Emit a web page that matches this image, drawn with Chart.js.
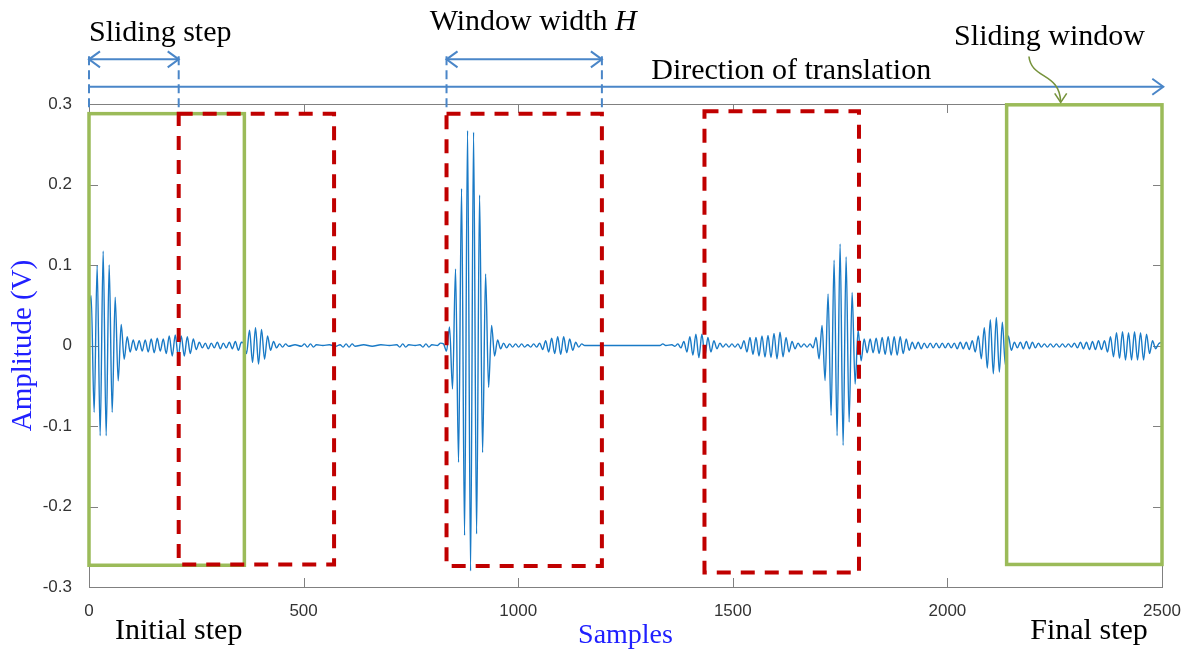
<!DOCTYPE html>
<html>
<head>
<meta charset="utf-8">
<script src="https://cdn.jsdelivr.net/npm/chart.js@4.4.1/dist/chart.umd.min.js"></script>
<style>
  html, body { margin: 0; padding: 0; background: #fff; }
</style>
</head>
<body>
<canvas id="graficoSinal" width="1189" height="652"></canvas>
<script>
// tick labels
const xTicks = [0, 500, 1000, 1500, 2000, 2500];
const yTicks = [-0.3, -0.2, -0.1, 0, 0.1, 0.2, 0.3];

// signal: [sample, amplitude (V)] at each visible crest / trough
const signalPoints = [
  [0,0.045],[5,0.062],[12,-0.083],[19,0.099],[26,-0.112],[33,0.117],[40,-0.112],[47,0.1],[54,-0.083],[61,0.06],
  [68,-0.044],[75,0.026],[82,-0.017],[89,0.011],[96,-0.008],
  [103,0.007],[110,-0.006],[117,0.006],[124,-0.007],[131,0.007],[138,-0.008],[145,0.008],[152,-0.009],[159,0.009],
  [166,-0.007],[173,0.008],
  [180,-0.01],[187,0.012],[194,-0.013],[201,0.013],[208,-0.014],[215,0.012],[222,-0.013],[229,0.011],[236,-0.01],
  [243,0.008],[250,-0.005],
  [257,0.004],[264,-0.003],[271,0.003],[278,-0.004],[285,0.003],[292,-0.003],[299,0.004],[306,-0.004],[313,0.003],
  [320,-0.003],[327,0.004],[334,-0.004],[341,0.005],[348,-0.006],[355,0.004],
  [360,0.003],[367,-0.01],[374,0.019],[381,-0.021],[388,0.022],[395,-0.023],[402,0.02],[409,-0.017],[416,0.012],
  [423,-0.006],[430,0.005],[437,-0.003],[444,0.002],
  [451,-0.002],[458,0.002],[465,-0.001],[480,0.001],[495,-0.001],[502,0.002],[509,-0.002],[516,0.002],[523,-0.002],
  [530,0.001],[545,0],[560,0.001],[575,-0.001],[585,0.001],[592,-0.002],[599,0.002],[606,-0.002],[613,0.002],
  [620,-0.001],[640,0.001],[660,-0.001],[680,0.001],[700,0],[717,0.001],[724,-0.002],[731,0.002],[738,-0.002],
  [745,0.001],[760,0],[771,0.001],[778,-0.002],[785,0.002],[792,-0.002],[799,0.001],[812,0],[819,0.003],[826,0.002],
  [833,-0.007],
  [840,0.023],[847,-0.054],[854,0.095],[861,-0.145],[868,0.195],[875,-0.236],[882,0.267],[889,-0.28],[896,0.265],
  [903,-0.234],[910,0.187],[917,-0.133],[924,0.089],[931,-0.052],[938,0.025],[945,-0.013],[952,0.007],[959,-0.004],
  [966,0.003],[973,-0.003],[980,0.002],[987,-0.002],[994,0.002],[1001,-0.002],[1008,0.002],[1015,-0.002],
  [1022,0.001],[1029,-0.002],[1036,0.002],[1043,-0.002],
  [1050,0.003],[1057,-0.005],[1064,0.006],[1071,-0.008],[1078,0.009],[1085,-0.01],[1092,0.011],[1099,-0.011],
  [1106,0.011],[1113,-0.009],[1120,0.008],[1127,-0.006],[1134,0.004],[1141,-0.002],[1148,0.002],
  [1155,0],[1200,0],[1250,0],[1300,0],[1330,0],[1337,0.002],[1344,0],[1358,0.001],[1365,-0.001],[1372,0.002],
  [1379,-0.003],[1386,0.005],[1393,-0.008],[1400,0.011],[1407,-0.012],[1414,0.014],[1421,-0.015],[1428,0.014],
  [1435,-0.013],[1442,0.01],[1449,-0.008],[1456,0.006],[1463,-0.004],
  [1470,0.003],[1477,-0.002],[1484,0.002],[1491,-0.002],[1498,0.002],[1505,-0.002],[1512,0.002],
  [1519,-0.004],[1526,0.006],[1533,-0.008],[1540,0.01],[1547,-0.011],[1554,0.01],[1561,-0.013],[1568,0.012],
  [1575,-0.0145],[1582,0.0125],[1589,-0.015],[1596,0.015],[1603,-0.0165],[1610,0.0165],[1617,-0.014],[1624,0.01],
  [1631,-0.008],[1638,0.005],
  [1645,-0.004],[1652,0.003],[1659,-0.002],[1666,0.002],[1673,-0.002],[1680,0.002],[1687,-0.003],
  [1694,0.01],[1701,-0.0166],[1708,0.025],[1715,-0.0435],[1722,0.064],[1729,-0.087],[1736,0.106],[1743,-0.112],
  [1750,0.126],[1757,-0.124],[1764,0.11],[1771,-0.095],[1778,0.066],[1785,-0.048],[1792,0.019],[1799,-0.019],
  [1806,0.008],
  [1813,-0.009],[1820,0.008],[1827,-0.009],[1834,0.009],[1841,-0.01],[1848,0.01],[1855,-0.011],[1862,0.011],
  [1869,-0.012],[1876,0.011],[1883,-0.012],[1890,0.011],[1897,-0.01],[1904,0.008],[1911,-0.006],[1918,0.004],
  [1925,-0.004],[1932,0.004],[1939,-0.004],[1946,0.003],[1953,-0.003],[1960,0.003],[1967,-0.003],[1974,0.003],
  [1981,-0.003],[1988,0.003],[1995,-0.003],[2002,0.003],[2009,-0.003],[2016,0.003],[2023,-0.004],[2030,0.004],
  [2037,-0.004],[2044,0.004],[2051,-0.005],
  [2058,0.006],[2065,-0.008],[2072,0.012],[2079,-0.0165],[2086,0.022],[2093,-0.028],[2100,0.032],[2107,-0.035],
  [2114,0.035],[2121,-0.033],[2128,0.029],[2135,-0.024],[2142,0.012],[2149,-0.006],
  [2156,0.004],[2163,-0.003],[2170,0.004],[2177,-0.004],[2184,0.005],[2191,-0.004],[2198,0.004],[2205,-0.003],
  [2212,0.003],[2219,-0.002],[2226,0.002],[2233,-0.002],[2240,0.002],[2247,-0.002],[2254,0.002],[2261,-0.002],
  [2268,0.002],[2275,-0.002],[2282,0.002],[2289,-0.002],[2296,0.003],[2303,-0.003],[2310,0.004],[2317,-0.004],
  [2324,0.004],[2331,-0.005],[2338,0.005],[2345,-0.005],[2352,0.006],[2359,-0.005],[2366,0.006],
  [2373,-0.008],[2380,0.011],[2387,-0.014],[2394,0.016],[2401,-0.016],[2408,0.017],[2415,-0.018],[2422,0.016],
  [2429,-0.018],[2436,0.017],[2443,-0.018],[2450,0.016],[2457,-0.018],[2464,0.014],[2471,-0.01],[2478,0.006],
  [2485,-0.004],[2492,0.002],[2499,0.004]
];

const azul = 'rgb(74,134,200)';
const verde = '#9BBB59';
const vermelho = '#C00000';
const serif = "'Liberation Serif', 'Times New Roman', serif";

// windows drawn over the signal (in samples / volts)
const janelas = [
  {de: 0,    ate: 362,  topo: 0.288, base: -0.273, cor: verde,    tracejado: false},
  {de: 209,  ate: 571,  topo: 0.288, base: -0.272, cor: vermelho, tracejado: true},
  {de: 833,  ate: 1195, topo: 0.288, base: -0.274, cor: vermelho, tracejado: true},
  {de: 1434, ate: 1794, topo: 0.291, base: -0.282, cor: vermelho, tracejado: true},
  {de: 2138, ate: 2500, topo: 0.299, base: -0.272, cor: verde,    tracejado: false}
];

function ponta(ctx, x, y, ang) {
  // open arrow head, tip at (x,y) pointing at angle ang
  const l = 11, w = 8;
  ctx.beginPath();
  ctx.moveTo(x - l * Math.cos(ang) + w * Math.sin(ang), y - l * Math.sin(ang) - w * Math.cos(ang));
  ctx.lineTo(x, y);
  ctx.lineTo(x - l * Math.cos(ang) - w * Math.sin(ang), y - l * Math.sin(ang) + w * Math.cos(ang));
  ctx.stroke();
}

const moldura = {
  id: 'moldura',
  beforeDatasetsDraw(chart) {
    const {ctx, chartArea: a, scales: {x, y}} = chart;
    ctx.save();
    ctx.strokeStyle = '#808080';
    ctx.lineWidth = 1;
    ctx.strokeRect(Math.round(a.left) + 0.5, Math.round(a.top) + 0.5, Math.round(a.right - a.left), Math.round(a.bottom - a.top));
    ctx.beginPath();
    xTicks.forEach(v => {
      const px = Math.round(x.getPixelForValue(v)) + 0.5;
      ctx.moveTo(px, a.bottom); ctx.lineTo(px, a.bottom - 9);
      ctx.moveTo(px, a.top); ctx.lineTo(px, a.top + 9);
    });
    yTicks.forEach(v => {
      const py = Math.round(y.getPixelForValue(v)) + 0.5;
      ctx.moveTo(a.left, py); ctx.lineTo(a.left + 9, py);
      ctx.moveTo(a.right, py); ctx.lineTo(a.right - 9, py);
    });
    ctx.stroke();
    ctx.restore();
  }
};

const anotacoes = {
  id: 'anotacoes',
  afterDatasetsDraw(chart) {
    const {ctx, scales: {x, y}} = chart;
    ctx.save();

    // windows
    janelas.forEach(j => {
      ctx.strokeStyle = j.cor;
      ctx.lineWidth = j.tracejado ? 4 : 3.5;
      ctx.setLineDash(j.tracejado ? [14, 10] : []);
      const x0 = x.getPixelForValue(j.de), x1 = x.getPixelForValue(j.ate);
      const y0 = y.getPixelForValue(j.topo), y1 = y.getPixelForValue(j.base);
      ctx.strokeRect(x0, y0, x1 - x0, y1 - y0);
    });
    ctx.setLineDash([]);

    // blue arrows
    ctx.strokeStyle = azul;
    ctx.lineWidth = 2;
    const yDir = y.getPixelForValue(0.3215);
    const x0 = x.getPixelForValue(0), xFim = x.getPixelForValue(2503);
    ctx.beginPath(); ctx.moveTo(x0, yDir); ctx.lineTo(xFim, yDir); ctx.stroke();
    ponta(ctx, xFim, yDir, 0);

    const ySeta = y.getPixelForValue(0.3555);
    [[0, 209], [833, 1195]].forEach(([a, b]) => {
      const xa = x.getPixelForValue(a), xb = x.getPixelForValue(b);
      ctx.beginPath(); ctx.moveTo(xa, ySeta); ctx.lineTo(xb, ySeta); ctx.stroke();
      ponta(ctx, xa, ySeta, Math.PI);
      ponta(ctx, xb, ySeta, 0);
      ctx.setLineDash([9, 5]);
      ctx.beginPath();
      ctx.moveTo(xa, ySeta - 3); ctx.lineTo(xa, y.getPixelForValue(0.292));
      ctx.moveTo(xb, ySeta - 3); ctx.lineTo(xb, y.getPixelForValue(0.292));
      ctx.stroke();
      ctx.setLineDash([]);
    });

    // curved arrow to the last window
    ctx.strokeStyle = '#77933C';
    ctx.lineWidth = 1.6;
    const p = (s, v) => [x.getPixelForValue(s), y.getPixelForValue(v)];
    const [sx, sy] = p(2190, 0.359), [c1x, c1y] = p(2196, 0.33), [c2x, c2y] = p(2262, 0.34), [ex, ey] = p(2264, 0.302);
    ctx.beginPath(); ctx.moveTo(sx, sy); ctx.bezierCurveTo(c1x, c1y, c2x, c2y, ex, ey); ctx.stroke();
    const l = 9, w = 6;
    ctx.beginPath();
    ctx.moveTo(ex - w, ey - l); ctx.lineTo(ex, ey); ctx.lineTo(ex + w, ey - l);
    ctx.stroke();

    // texts
    const fonte = '30px ' + serif;
    ctx.fillStyle = '#000';
    ctx.textBaseline = 'middle';
    ctx.font = fonte;
    ctx.textAlign = 'left';
    ctx.fillText('Sliding step', x.getPixelForValue(0), y.getPixelForValue(0.388));
    ctx.textAlign = 'center';
    ctx.fillText('Direction of translation', x.getPixelForValue(1636), y.getPixelForValue(0.341));
    ctx.fillText('Sliding window', x.getPixelForValue(2238), y.getPixelForValue(0.383));
    ctx.fillText('Initial step', x.getPixelForValue(209), y.getPixelForValue(-0.3545));
    ctx.fillText('Final step', x.getPixelForValue(2330), y.getPixelForValue(-0.3545));

    // "Window width H" with italic H
    ctx.textAlign = 'left';
    const t1 = 'Window width ';
    const w1 = ctx.measureText(t1).width;
    ctx.font = 'italic 30px ' + serif;
    const w2 = ctx.measureText('H').width;
    const xc = x.getPixelForValue(1035) - (w1 + w2) / 2;
    const yw = y.getPixelForValue(0.402);
    ctx.font = fonte;
    ctx.fillText(t1, xc, yw);
    ctx.font = 'italic 30px ' + serif;
    ctx.fillText('H', xc + w1, yw);

    ctx.restore();
  }
};

new Chart(document.getElementById('graficoSinal'), {
  type: 'line',
  data: {
    datasets: [{
      data: signalPoints.map(([s, v]) => ({x: s, y: v})),
      borderColor: 'rgb(25,122,198)',
      borderWidth: 1.4,
      pointRadius: 0,
      cubicInterpolationMode: 'monotone',
      fill: false
    }]
  },
  options: {
    responsive: false,
    animation: false,
    devicePixelRatio: 1,
    layout: {padding: {top: 104, right: 27, bottom: 0, left: 0}},
    plugins: {legend: {display: false}, tooltip: {enabled: false}},
    scales: {
      x: {
        type: 'linear',
        min: 0,
        max: 2500,
        afterBuildTicks: s => { s.ticks = xTicks.map(v => ({value: v})); },
        afterFit: s => { s.height = 65; s.paddingLeft = 0; s.paddingRight = 0; },
        grid: {display: false},
        border: {display: false},
        ticks: {
          padding: 6,
          color: '#333',
          font: {family: "'Liberation Sans', Arial, sans-serif", size: 17},
          callback: v => String(v)
        },
        title: {
          display: true,
          text: 'Samples',
          color: '#2020ff',
          font: {family: serif, size: 28},
          padding: {top: 0, bottom: 0}
        }
      },
      y: {
        min: -0.3,
        max: 0.3,
        afterBuildTicks: s => { s.ticks = yTicks.map(v => ({value: v})); },
        afterFit: s => { s.width = 89; s.paddingTop = 0; s.paddingBottom = 0; },
        grid: {display: false},
        border: {display: false},
        ticks: {
          padding: 9,
          color: '#333',
          font: {family: "'Liberation Sans', Arial, sans-serif", size: 17},
          callback: v => (v === 0 ? '0' : v.toFixed(1))
        },
        title: {
          display: true,
          text: 'Amplitude (V)',
          color: '#2020ff',
          font: {family: serif, size: 29},
          padding: {top: 6, bottom: 0}
        }
      }
    }
  },
  plugins: [moldura, anotacoes]
});
</script>
</body>
</html>
